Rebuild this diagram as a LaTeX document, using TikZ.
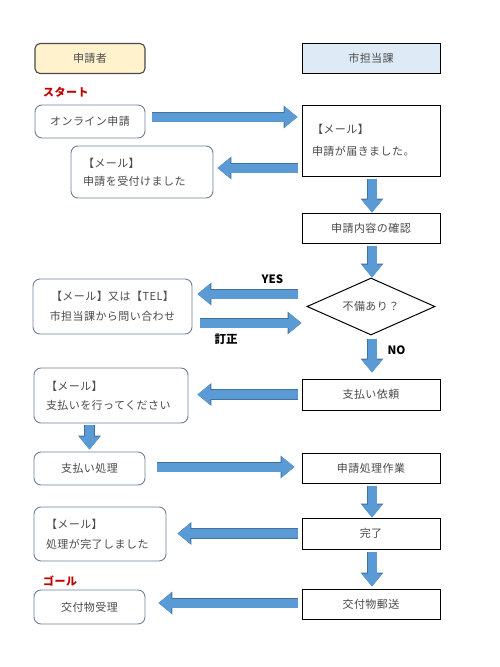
\documentclass[tikz,border=0pt]{standalone}
\usepackage{fontspec}
\setmainfont[LetterSpace=4]{Noto Sans CJK JP}
\newfontfamily\lblfont{Noto Sans CJK JP}
\usetikzlibrary{shapes.geometric,arrows.meta}
\definecolor{arrowfill}{HTML}{5B9BD5}
\definecolor{arrowline}{HTML}{41719C}
\definecolor{roundline}{HTML}{6F8197}
\definecolor{txt}{HTML}{4A4A4A}
\definecolor{hdrorange}{HTML}{FFF2CC}
\definecolor{hdrblue}{HTML}{DEEBF7}
\definecolor{startred}{HTML}{C00000}
\tikzset{
  base/.style={font=\fontsize{11}{13}\selectfont, text=txt, inner sep=0pt},
  roundbox/.style={base, draw=roundline, line width=0.9pt, rounded corners=7pt, fill=white},
  squarebox/.style={base, draw=black, line width=1pt, fill=white},
  blockarrow/.style={draw=arrowfill, line width=9pt,
     -{Triangle[width=20pt,length=13pt]},
     preaction={draw=arrowline, line width=10.4pt, -{Triangle[width=22pt,length=14pt]}}},
  redlabel/.style={font=\fontsize{11}{13}\selectfont\bfseries, text=startred, inner sep=0pt},
  blabel/.style={font=\lblfont\fontsize{11.5}{13}\selectfont\bfseries, text=black, inner sep=0pt},
}
\begin{document}
\begin{tikzpicture}[x=1pt,y=-1pt]
\useasboundingbox[fill=white] (0,0) rectangle (499,667);
% headers
\node[base, draw=txt, line width=1.1pt, rounded corners=5pt, fill=hdrorange,
  minimum width=110pt, minimum height=30pt] (h1) at (90,58.5) {申請者};
\node[squarebox, fill=hdrblue, minimum width=138pt, minimum height=30pt] (h2) at (371,58) {市担当課};
% labels
\node[redlabel, anchor=west] (start) at (43,92) {スタート};
\node[redlabel, anchor=west] (goal) at (43,581) {ゴール};
% left column
\node[roundbox, minimum width=110pt, minimum height=33pt] (n1) at (90,121.5) {オンライン申請};
\node[roundbox, minimum width=142pt, minimum height=52pt, text width=118pt, inner xsep=12pt, align=left]
  (n3) at (142,172) {【メール】\\[5pt]申請を受付けました};
\node[roundbox, minimum width=159pt, minimum height=55pt, align=center]
  (n5) at (112.5,306.5) {【メール】又は【TEL】\\[7pt]市担当課から問い合わせ};
\node[roundbox, minimum width=154pt, minimum height=55pt, text width=130pt, inner xsep=12pt, align=left]
  (n7) at (111,395.5) {【メール】\\[6pt]支払いを行ってください};
\node[roundbox, minimum width=111pt, minimum height=33pt] (n8) at (89.5,468.5) {支払い処理};
\node[roundbox, minimum width=132pt, minimum height=54pt, text width=108pt, inner xsep=12pt, align=left]
  (n11) at (100,534) {【メール】\\[7pt]処理が完了しました};
\node[roundbox, minimum width=111pt, minimum height=34pt] (n13) at (89.5,607) {交付物受理};
% right column
\node[squarebox, minimum width=138pt, minimum height=71pt, text width=118pt, inner xsep=10pt, align=left]
  (n2) at (371,140.5) {【メール】\\[9pt]申請が届きました。};
\node[squarebox, minimum width=138pt, minimum height=30pt] (n4) at (371,228) {申請内容の確認};
\node[base, diamond, draw=black, line width=1pt, fill=white, aspect=2.25,
  minimum width=128pt, minimum height=57pt] (d) at (371,306.5) {不備あり？};
\node[squarebox, minimum width=138pt, minimum height=31pt] (n6) at (371,394.5) {支払い依頼};
\node[squarebox, minimum width=138pt, minimum height=30pt] (n9) at (371,468) {申請処理作業};
\node[squarebox, minimum width=138pt, minimum height=31pt] (n10) at (371,533.5) {完了};
\node[squarebox, minimum width=138pt, minimum height=30pt] (n12) at (371,604) {交付物郵送};
% arrow labels
\node[blabel] (yes) at (272.5,279.5) {YES};
\node[blabel] (teisei) at (226,339) {訂正};
\node[blabel] (no) at (396.5,350) {NO};
% arrows
\draw[blockarrow, shorten <=7pt, shorten >=4pt] ([yshift=4.5pt]n1.east) -- ([yshift=4.5pt]n2.west |- n1.east);
\draw[blockarrow, shorten <=4pt, shorten >=4pt] ([yshift=-27.5pt]n2.west) -- ([yshift=-27.5pt]n2.west -| n3.east);
\draw[blockarrow, shorten <=2pt, shorten >=0pt] ([xshift=1pt]n2.south) -- ([xshift=1pt]n4.north);
\draw[blockarrow, shorten <=2pt, shorten >=0pt] ([xshift=1pt]n4.south) -- ([xshift=1pt]d.north);
\draw[blockarrow, shorten <=9pt, shorten >=5pt] ([yshift=12.5pt]d.west) -- ([yshift=12.5pt]d.west -| n5.east);
\draw[blockarrow, shorten <=8pt, shorten >=5pt] ([yshift=-16.5pt]n5.east) -- ([yshift=-16.5pt]n5.east -| d.west);
\draw[blockarrow, shorten <=3pt, shorten >=6pt] ([xshift=1pt]d.south) -- ([xshift=1pt]n6.north);
\draw[blockarrow, shorten <=4pt, shorten >=9pt] (n6.west) -- (n6.west -| n7.east);
\draw[blockarrow, shorten <=2pt, shorten >=2pt] (n7.south -| n8.north) -- (n8.north);
\draw[blockarrow, shorten <=12pt, shorten >=7pt] ([yshift=1.5pt]n8.east) -- ([yshift=1.5pt]n8.east -| n9.west);
\draw[blockarrow, shorten <=2pt, shorten >=0pt] ([xshift=1pt]n9.south) -- ([xshift=1pt]n10.north);
\draw[blockarrow, shorten <=4pt, shorten >=11pt] (n10.west) -- (n10.west -| n11.east);
\draw[blockarrow, shorten <=2pt, shorten >=2pt] ([xshift=1pt]n10.south) -- ([xshift=1pt]n12.north);
\draw[blockarrow, shorten <=4pt, shorten >=13pt] ([yshift=1pt]n12.west) -- ([yshift=1pt]n12.west -| n13.east);
\end{tikzpicture}
\end{document}
